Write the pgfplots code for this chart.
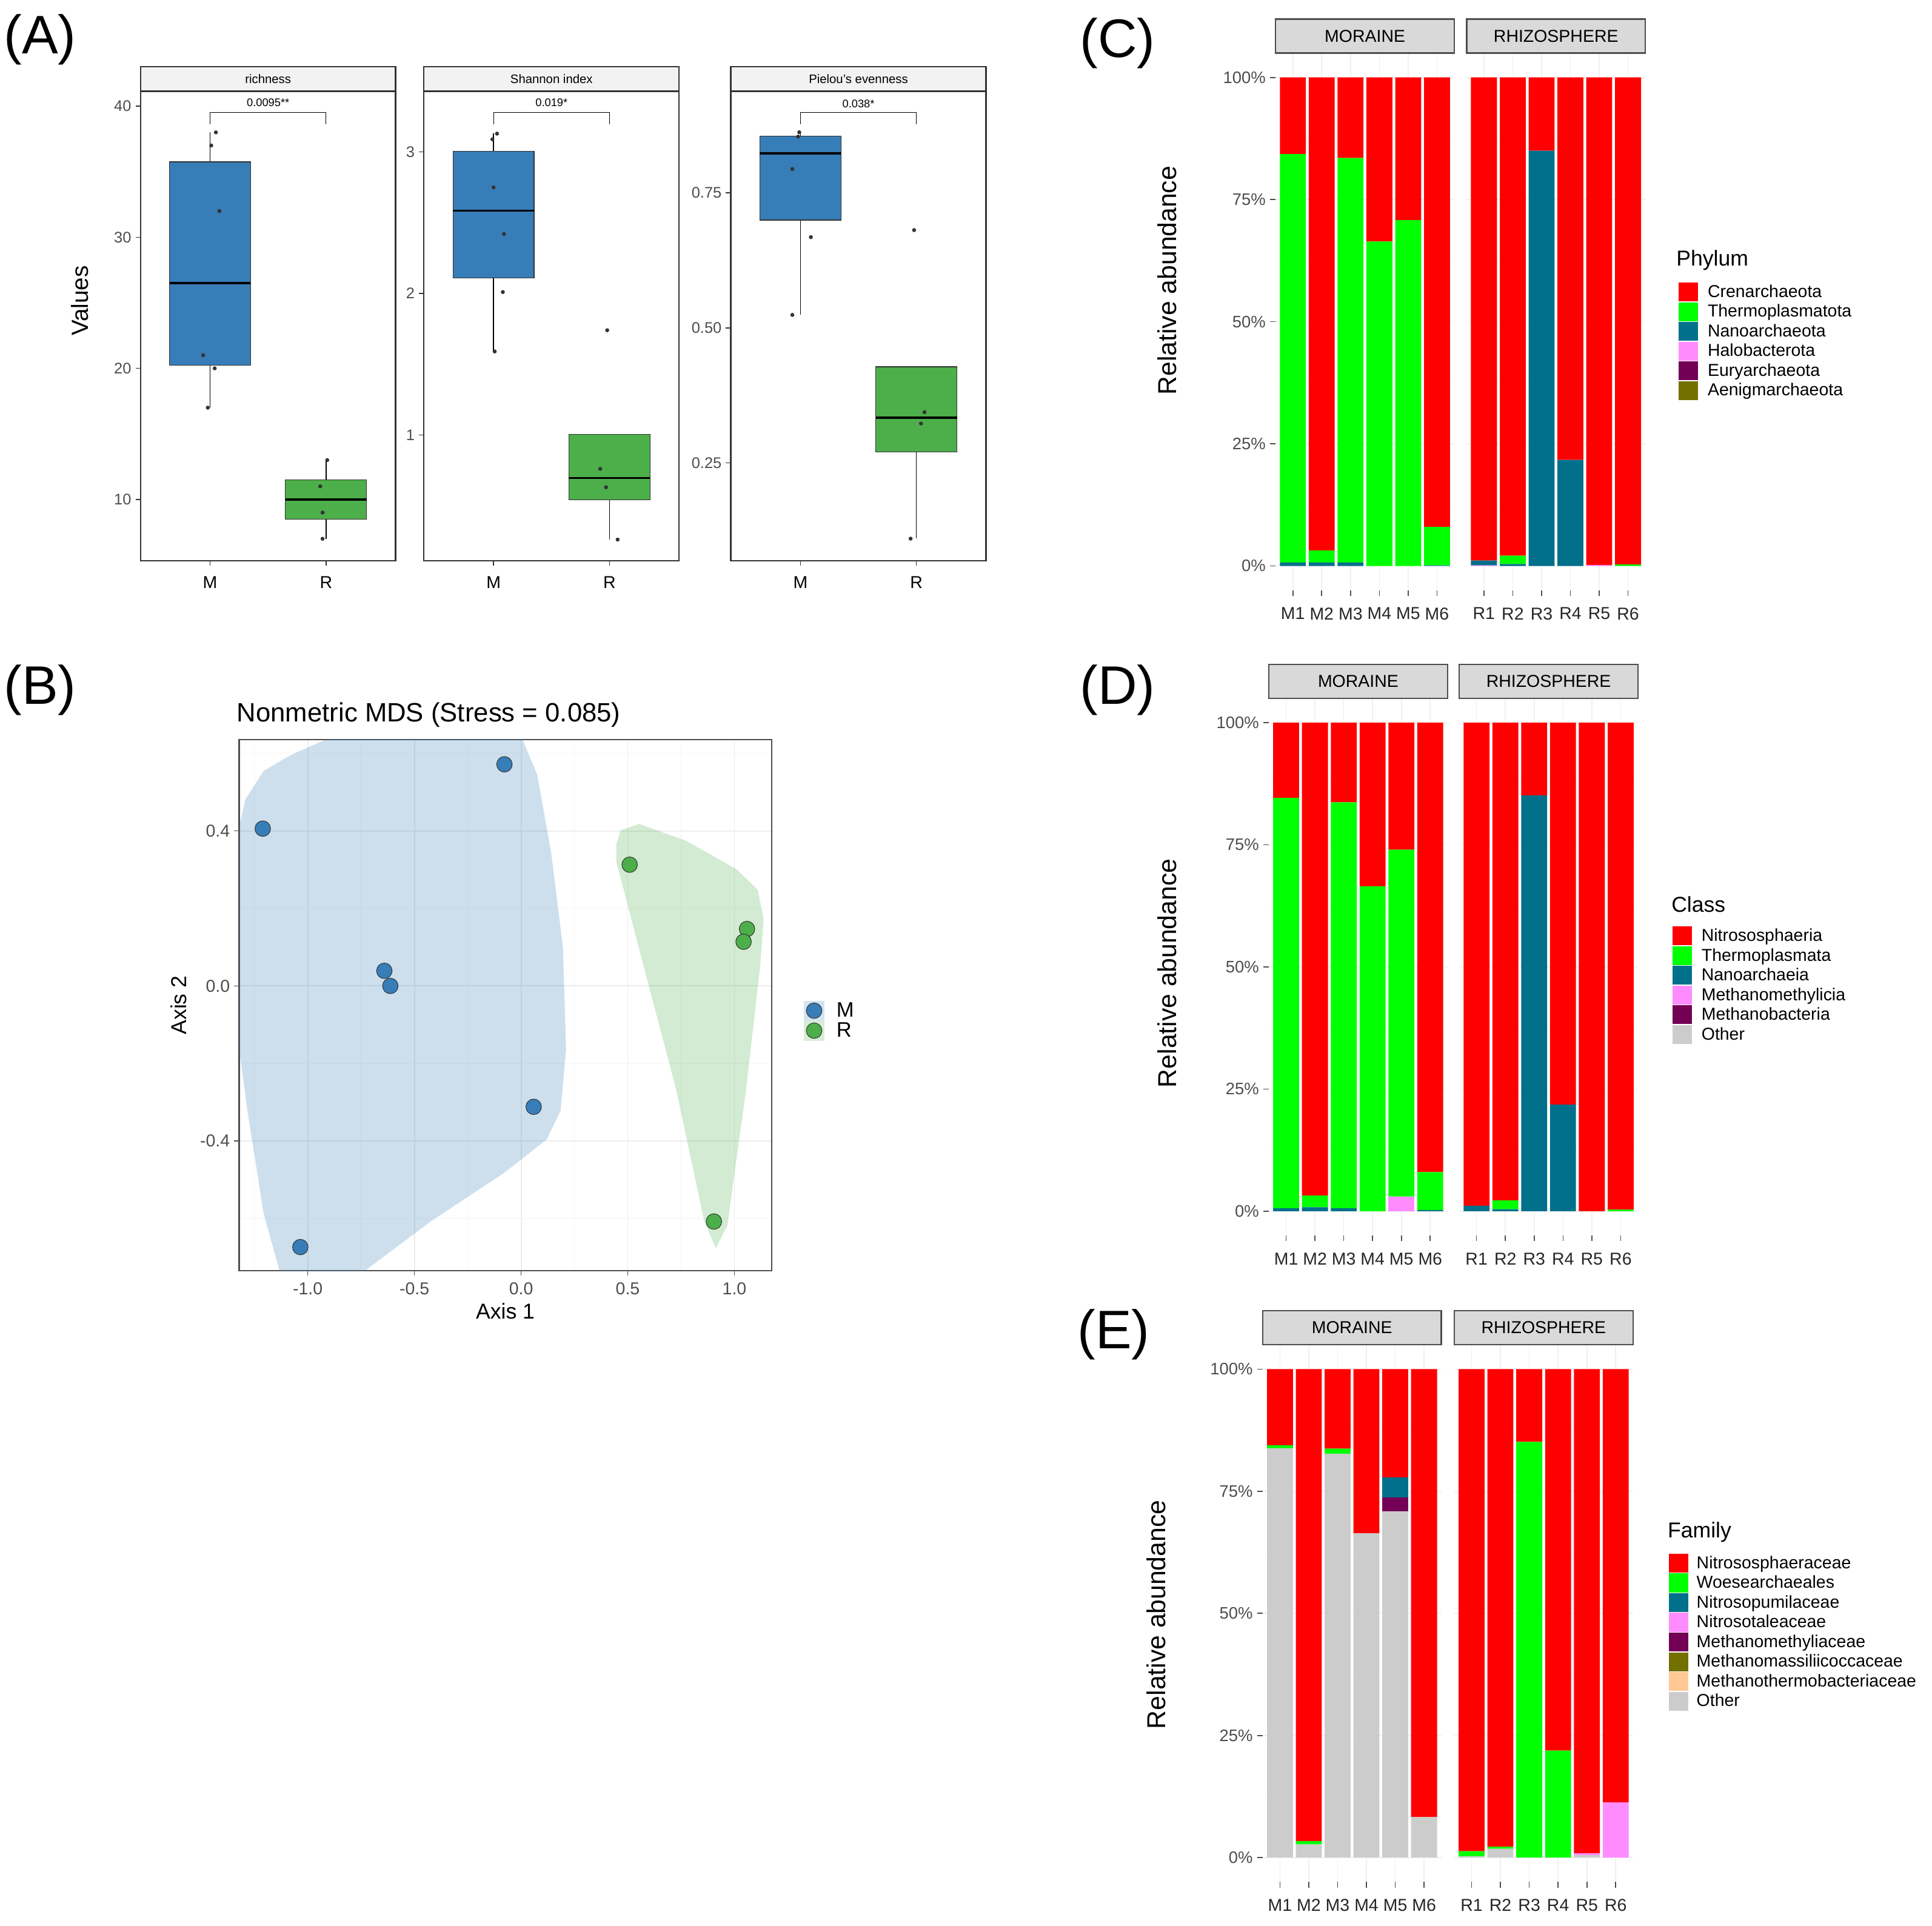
\documentclass[border=0pt]{standalone}
\usepackage{fontspec}
\setmainfont{Liberation Sans}
\usepackage{pgfplots}
\usepackage{pgfplotstable}
\pgfplotsset{compat=1.18}
\usepgfplotslibrary{statistics}

\definecolor{cRed}{HTML}{FF0000}
\definecolor{cGreen}{HTML}{00FF00}
\definecolor{cTeal}{HTML}{00708B}
\definecolor{cPink}{HTML}{FF8CFF}
\definecolor{cPurple}{HTML}{730055}
\definecolor{cOlive}{HTML}{737000}
\definecolor{cPeach}{HTML}{FFC894}
\definecolor{cOther}{HTML}{CCCCCC}
\definecolor{setBlue}{HTML}{377EB8}
\definecolor{setGreen}{HTML}{4DAF4A}
\definecolor{gray30}{HTML}{4D4D4D}
\definecolor{gray20}{HTML}{333333}
\definecolor{stripA}{HTML}{F2F2F2}
\definecolor{stripC}{HTML}{D9D9D9}

\newcommand{\fs}[1]{\fontsize{#1}{#1}\selectfont}

% relative abundance (%), stacked bottom to top
\pgfplotstableread{
x other peach olive purple pink teal green red
1 0 0 0 0 0 0.7 83.6 15.7
2 0 0 0 0 0 0.7 2.5 96.8
3 0 0 0 0 0 0.7 82.8 16.5
4 0 0 0 0 0 0 66.4 33.6
5 0 0 0 0 0 0 70.8 29.2
6 0 0 0 0 0 0.1 7.9 92.0
}\phyM
\pgfplotstableread{
x other peach olive purple pink teal green red
1 0 0 0 0 0.1 1.0 0 98.9
2 0 0 0 0 0 0.4 1.7 97.9
3 0 0 0 0 0 85.0 0 15.0
4 0 0 0 0 0 21.7 0 78.3
5 0 0 0 0 0.2 0 0 99.8
6 0 0 0 0 0 0 0.3 99.7
}\phyR
\pgfplotstableread{
x other peach olive purple pink teal green red
1 0 0 0 0 0 0.6 84.0 15.4
2 0 0 0 0 0 0.8 2.4 96.8
3 0 0 0 0 0 0.6 83.1 16.3
4 0 0 0 0 0 0 66.5 33.5
5 0 0 0 0 3.0 0 71.0 26.0
6 0 0 0 0 0 0.2 7.8 92.0
}\claM
\pgfplotstableread{
x other peach olive purple pink teal green red
1 0 0 0 0 0 1.1 0 98.9
2 0 0 0 0 0 0.4 1.8 97.8
3 0 0 0 0 0 85.1 0 14.9
4 0 0 0 0 0 21.8 0 78.2
5 0 0 0 0 0 0 0 100
6 0 0 0 0 0 0 0.3 99.7
}\claR
\pgfplotstableread{
x other peach olive purple pink teal green red
1 83.8 0 0 0 0 0 0.6 15.6
2 2.7 0 0 0 0 0 0.7 96.6
3 82.7 0 0 0 0 0 1.0 16.3
4 66.4 0 0 0 0 0 0 33.6
5 70.9 0 0 2.9 0 4.0 0 22.2
6 8.3 0 0 0 0 0 0 91.7
}\famM
\pgfplotstableread{
x other peach olive purple pink teal green red
1 0.3 0 0 0 0 0 1.0 98.7
2 1.8 0 0 0 0 0 0.4 97.8
3 0 0 0 0 0 0 85.1 14.9
4 0 0 0 0 0 0 21.9 78.1
5 0.5 0 0 0 0.4 0 0 99.1
6 0 0 0 0 11.3 0 0 88.7
}\famR

\newcommand{\stackbars}[1]{%
  \addplot[fill=cOther,draw=none] table[x=x,y=other]{#1};
  \addplot[fill=cPeach,draw=none] table[x=x,y=peach]{#1};
  \addplot[fill=cOlive,draw=none] table[x=x,y=olive]{#1};
  \addplot[fill=cPurple,draw=none] table[x=x,y=purple]{#1};
  \addplot[fill=cPink,draw=none] table[x=x,y=pink]{#1};
  \addplot[fill=cTeal,draw=none] table[x=x,y=teal]{#1};
  \addplot[fill=cGreen,draw=none] table[x=x,y=green]{#1};
  \addplot[fill=cRed,draw=none] table[x=x,y=red]{#1};
}

\pgfplotsset{
  boxA/.style={scale only axis, width=207pt, height=381pt, xmin=0.4, xmax=2.6,
    xtick={1,2}, xticklabels={M,R},
    axis line style={draw=gray20, line width=1.1pt},
    tick style={draw=gray20, line width=0.7pt}, tick align=outside, major tick length=4pt,
    xtick pos=bottom, ytick pos=left,
    yticklabel style={font=\fs{12.5}, text=gray30},
    xticklabel style={font=\fs{14}, text=black, yshift=-5pt},
    boxplot/draw direction=y,
    boxplot/box extend=0.7, boxplot/whisker extend=0,
    boxplot/every median/.style={draw=black, line width=1.8pt},
    boxplot/every whisker/.style={draw=black, line width=0.75pt},
    clip=false},
  jit/.style={only marks, mark=*, mark size=1.4pt, color=gray20},
  facet/.style={scale only axis, width=145pt, height=436pt,
    xmin=0.4, xmax=6.6, ymin=-5, ymax=105, ybar stacked, bar width=0.9,
    xtick={1,...,6}, ytick={0,25,50,75,100}, minor ytick={12.5,37.5,62.5,87.5},
    xmajorgrids, ymajorgrids, yminorgrids,
    major grid style={draw=gray!12, line width=0.8pt},
    minor grid style={draw=gray!6, line width=0.5pt},
    axis line style={draw=none}, tick align=outside,
    major tick length=4.5pt, minor tick length=0pt,
    tick style={draw=gray30, line width=0.8pt},
    xtick pos=bottom, ytick pos=left,
    xticklabel style={font=\fs{14}, text=black!85, yshift=-6pt},
    yticklabel style={font=\fs{13.5}, text=gray30},
    yticklabels={0\%,25\%,50\%,75\%,100\%}},
  rfacet/.style={facet, yticklabels={}, ytick style={draw=none}},
  key/.style={legend image code/.code={\fill[#1] (0pt,-7.4pt) rectangle (15pt,7.4pt);}},
  legbox/.style={scale only axis, width=1pt, height=1pt, hide axis,
    xmin=0, xmax=1, ymin=0, ymax=1,
    legend style={at={(0,1)}, anchor=north west, draw=none, fill=none,
      inner sep=0pt, row sep=0.8pt, column sep=#1, font=\fs{14},
      nodes={inner sep=0pt}},
    legend cell align=left},
}

\begin{document}
\begin{tikzpicture}
\useasboundingbox (0,0) rectangle (1567.6pt,-1562.2pt);

% ---------------- (A) ----------------
\node[font=\fs{44}, anchor=west, inner sep=0pt] at (3pt,-32pt) {(A)};
\node[font=\fs{19}, rotate=90] at (65pt,-244pt) {Values};

\begin{axis}[boxA, name=richA, at={(114pt,-455pt)}, anchor=south west,
  ymin=5.32, ymax=41.14, ytick={10,20,30,40}, yticklabels={10,20,30,40}]
\addplot[boxplot prepared={draw position=1, lower whisker=17, lower quartile=20.25,
  median=26.5, upper quartile=35.75, upper whisker=38}, fill=setBlue, draw=gray20, line width=0.6pt] coordinates {};
\addplot[boxplot prepared={draw position=2, lower whisker=7, lower quartile=8.5,
  median=10, upper quartile=11.5, upper whisker=13}, fill=setGreen, draw=gray20, line width=0.6pt] coordinates {};
\addplot[jit] coordinates {(1.05,38) (1.01,37) (1.08,32) (0.94,21) (1.04,20) (0.98,17)
  (2.01,13) (1.95,11) (1.97,9) (1.97,7)};
\addplot[black, line width=0.5pt] coordinates {(1,38.64) (1,39.54) (2,39.54) (2,38.64)};
\node[font=\fs{9}] at (axis cs:1.5,40.25) {0.0095**};
\end{axis}

\begin{axis}[boxA, name=shanA, at={(344pt,-455pt)}, anchor=south west,
  ymin=0.11, ymax=3.43, ytick={1,2,3}, yticklabels={1,2,3}]
\addplot[boxplot prepared={draw position=1, lower whisker=1.59, lower quartile=2.11,
  median=2.585, upper quartile=3.005, upper whisker=3.13}, fill=setBlue, draw=gray20, line width=0.6pt] coordinates {};
\addplot[boxplot prepared={draw position=2, lower whisker=0.26, lower quartile=0.54,
  median=0.695, upper quartile=1.005, upper whisker=1.005}, fill=setGreen, draw=gray20, line width=0.6pt] coordinates {};
\addplot[jit] coordinates {(1.03,3.13) (0.99,3.09) (1.00,2.75) (1.09,2.42) (1.08,2.01) (1.01,1.59)
  (1.98,1.74) (1.92,0.76) (1.97,0.63) (2.07,0.26)};
\addplot[black, line width=0.5pt] coordinates {(1,3.196) (1,3.28) (2,3.28) (2,3.196)};
\node[font=\fs{9}] at (axis cs:1.5,3.35) {0.019*};
\end{axis}

\begin{axis}[boxA, name=pielA, at={(593pt,-455pt)}, anchor=south west,
  ymin=0.069, ymax=0.938, ytick={0.25,0.5,0.75}, yticklabels={0.25,0.50,0.75}]
\addplot[boxplot prepared={draw position=1, lower whisker=0.524, lower quartile=0.6995,
  median=0.823, upper quartile=0.855, upper whisker=0.862}, fill=setBlue, draw=gray20, line width=0.6pt] coordinates {};
\addplot[boxplot prepared={draw position=2, lower whisker=0.110, lower quartile=0.270,
  median=0.3335, upper quartile=0.428, upper whisker=0.428}, fill=setGreen, draw=gray20, line width=0.6pt] coordinates {};
\addplot[jit] coordinates {(0.99,0.862) (0.98,0.854) (0.93,0.794) (1.09,0.668) (0.93,0.524)
  (1.98,0.681) (2.07,0.344) (2.04,0.323) (1.95,0.110)};
\addplot[black, line width=0.5pt] coordinates {(1,0.877) (1,0.899) (2,0.899) (2,0.877)};
\node[font=\fs{9}] at (axis cs:1.5,0.915) {0.038*};
\end{axis}

\foreach \nm/\lab in {richA/richness, shanA/Shannon index, pielA/Pielou's evenness}{
  \draw[fill=stripA, draw=gray20, line width=1.1pt] (\nm.north west) rectangle ([yshift=20pt]\nm.north east);
  \node[font=\fs{10}] at ([yshift=10pt]\nm.north) {\lab};
}

% ---------------- (B) ----------------
\node[font=\fs{44}, anchor=west, inner sep=0pt] at (3pt,-560pt) {(B)};
\begin{axis}[name=nmds, at={(194pt,-1031pt)}, anchor=south west, scale only axis,
  width=432pt, height=431pt,
  xmin=-1.322, xmax=1.174, ymin=-0.735, ymax=0.636,
  xtick={-1,-0.5,0,0.5,1}, xticklabels={-1.0,-0.5,0.0,0.5,1.0},
  ytick={-0.4,0,0.4}, yticklabels={-0.4,0.0,0.4},
  minor xtick={-1.25,-0.75,-0.25,0.25,0.75}, minor ytick={-0.6,-0.2,0.2,0.6},
  xmajorgrids, ymajorgrids, xminorgrids, yminorgrids,
  major grid style={draw=gray!15, line width=0.9pt},
  minor grid style={draw=gray!8, line width=0.5pt},
  axis line style={draw=gray30, line width=1.1pt},
  tick style={draw=gray30, line width=0.7pt}, tick align=outside,
  major tick length=4pt, minor tick length=0pt,
  xtick pos=bottom, ytick pos=left,
  ticklabel style={font=\fs{14}, text=gray30},
  xticklabel style={yshift=-2pt},
  xlabel={Axis 1}, ylabel={Axis 2},
  every axis x label/.style={at={(axis description cs:0.5,0)}, yshift=-33pt, anchor=center, font=\fs{17.5}},
  every axis y label/.style={at={(axis description cs:0,0.5)}, xshift=-49pt, rotate=90, anchor=center, font=\fs{17.5}},
  title={Nonmetric MDS (Stress = 0.085)},
  every axis title/.style={at={(axis description cs:0,1)}, anchor=base west, yshift=14.5pt, xshift=-2pt, font=\fs{21.5}, inner sep=0pt},
  legend style={at={(1.0606,0.5088)}, anchor=north west, draw=none, fill=none,
    inner sep=0pt, row sep=0pt, column sep=10pt, font=\fs{17}, nodes={inner sep=0pt}},
  legend cell align=left]
\addplot[fill=setBlue, fill opacity=0.25, draw=none, forget plot] coordinates {
  (-1.34,-0.09) (-1.34,0.365) (-1.293,0.481) (-1.207,0.555) (-1.076,0.597) (-0.815,0.66)
  (-0.011,0.66) (0.076,0.544) (0.141,0.344) (0.196,0.100) (0.211,-0.164) (0.185,-0.322)
  (0.120,-0.396) (-0.076,-0.481) (-0.424,-0.608) (-0.793,-0.76) (-1.12,-0.76)
  (-1.207,-0.587) (-1.283,-0.322)} -- cycle;
\addplot[fill=setGreen, fill opacity=0.25, draw=none, forget plot] coordinates {
  (0.446,0.322) (0.446,0.365) (0.467,0.402) (0.554,0.418) (0.772,0.375) (1.011,0.301)
  (1.109,0.248) (1.137,0.174) (1.120,0.048) (1.054,-0.270) (0.967,-0.618) (0.913,-0.677)
  (0.859,-0.608) (0.728,-0.270) (0.576,0.048)} -- cycle;
\addplot[only marks, mark=*, mark size=6.3pt, mark options={fill=setBlue, draw=gray20, line width=0.5pt},
  legend image code/.code={\fill[setBlue!22] (0pt,-7.9pt) rectangle (16pt,7.9pt);
    \draw[mark=*, mark size=6.3pt, mark options={fill=setBlue, draw=gray20, line width=0.5pt}] plot coordinates {(8pt,0pt)};}]
  coordinates {(-1.211,0.406) (-0.078,0.572) (-0.641,0.039) (-0.613,0.0) (0.059,-0.312) (-1.035,-0.674)};
\addlegendentry{M}
\addplot[only marks, mark=*, mark size=6.3pt, mark options={fill=setGreen, draw=gray20, line width=0.5pt},
  legend image code/.code={\fill[setGreen!22] (0pt,-7.9pt) rectangle (16pt,7.9pt);
    \draw[mark=*, mark size=6.3pt, mark options={fill=setGreen, draw=gray20, line width=0.5pt}] plot coordinates {(8pt,0pt)};}]
  coordinates {(0.509,0.313) (1.059,0.147) (1.043,0.114) (0.904,-0.608)};
\addlegendentry{R}
\end{axis}

% ---------------- (C) ----------------
\node[font=\fs{44}, anchor=west, inner sep=0pt] at (876pt,-35pt) {(C)};
\node[font=\fs{21}, rotate=90] at (947pt,-227.5pt) {Relative abundance};
\begin{axis}[facet, name=c1, at={(1035pt,-479pt)}, anchor=south west, xticklabels={M1,M2,M3,M4,M5,M6}]
\stackbars{\phyM}
\end{axis}
\begin{axis}[rfacet, name=c2, at={(1190pt,-479pt)}, anchor=south west, xticklabels={R1,R2,R3,R4,R5,R6}]
\stackbars{\phyR}
\end{axis}
\node[font=\fs{17.5}, anchor=west, inner sep=0pt] at (1360pt,-211pt) {Phylum};
\begin{axis}[legbox=8pt, at={(1362pt,-229pt)}, anchor=north west]
\addlegendimage{key=cRed}\addlegendentry{Crenarchaeota}
\addlegendimage{key=cGreen}\addlegendentry{Thermoplasmatota}
\addlegendimage{key=cTeal}\addlegendentry{Nanoarchaeota}
\addlegendimage{key=cPink}\addlegendentry{Halobacterota}
\addlegendimage{key=cPurple}\addlegendentry{Euryarchaeota}
\addlegendimage{key=cOlive}\addlegendentry{Aenigmarchaeota}
\end{axis}

% ---------------- (D) ----------------
\node[font=\fs{44}, anchor=west, inner sep=0pt] at (876pt,-560pt) {(D)};
\node[font=\fs{21}, rotate=90] at (947pt,-789.6pt) {Relative abundance};
\begin{axis}[facet, name=d1, at={(1029.5pt,-1002.5pt)}, anchor=south west, xticklabels={M1,M2,M3,M4,M5,M6}]
\stackbars{\claM}
\end{axis}
\begin{axis}[rfacet, name=d2, at={(1184pt,-1002.5pt)}, anchor=south west, xticklabels={R1,R2,R3,R4,R5,R6}]
\stackbars{\claR}
\end{axis}
\node[font=\fs{17.5}, anchor=west, inner sep=0pt] at (1356pt,-734pt) {Class};
\begin{axis}[legbox=8pt, at={(1357pt,-751.5pt)}, anchor=north west]
\addlegendimage{key=cRed}\addlegendentry{Nitrososphaeria}
\addlegendimage{key=cGreen}\addlegendentry{Thermoplasmata}
\addlegendimage{key=cTeal}\addlegendentry{Nanoarchaeia}
\addlegendimage{key=cPink}\addlegendentry{Methanomethylicia}
\addlegendimage{key=cPurple}\addlegendentry{Methanobacteria}
\addlegendimage{key=cOther}\addlegendentry{Other}
\end{axis}

% ---------------- (E) ----------------
\node[font=\fs{44}, anchor=west, inner sep=0pt] at (874pt,-1083pt) {(E)};
\node[font=\fs{21}, rotate=90] at (938pt,-1310pt) {Relative abundance};
\begin{axis}[facet, name=e1, at={(1024.5pt,-1527pt)}, anchor=south west, xticklabels={M1,M2,M3,M4,M5,M6}]
\stackbars{\famM}
\end{axis}
\begin{axis}[rfacet, name=e2, at={(1180pt,-1527pt)}, anchor=south west, xticklabels={R1,R2,R3,R4,R5,R6}]
\stackbars{\famR}
\end{axis}
\node[font=\fs{17.5}, anchor=west, inner sep=0pt] at (1353pt,-1243pt) {Family};
\begin{axis}[legbox=7pt, at={(1354pt,-1260.4pt)}, anchor=north west]
\addlegendimage{key=cRed}\addlegendentry{Nitrososphaeraceae}
\addlegendimage{key=cGreen}\addlegendentry{Woesearchaeales}
\addlegendimage{key=cTeal}\addlegendentry{Nitrosopumilaceae}
\addlegendimage{key=cPink}\addlegendentry{Nitrosotaleaceae}
\addlegendimage{key=cPurple}\addlegendentry{Methanomethyliaceae}
\addlegendimage{key=cOlive}\addlegendentry{Methanomassiliicoccaceae}
\addlegendimage{key=cPeach}\addlegendentry{Methanothermobacteriaceae}
\addlegendimage{key=cOther}\addlegendentry{Other}
\end{axis}

% facet strips
\foreach \nm/\lab in {c1/MORAINE, c2/RHIZOSPHERE, d1/MORAINE, d2/RHIZOSPHERE, e1/MORAINE, e2/RHIZOSPHERE}{
  \draw[fill=stripC, draw=gray30, line width=1.2pt] (\nm.north west) rectangle ([yshift=27.5pt]\nm.north east);
  \node[font=\fs{14}] at ([yshift=13.75pt]\nm.north) {\lab};
}
\end{tikzpicture}
\end{document}
